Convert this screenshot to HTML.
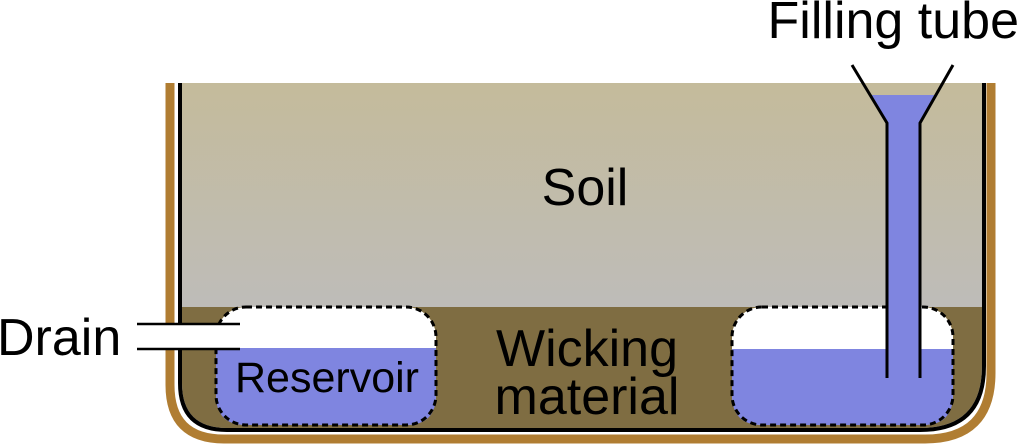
<!DOCTYPE html>
<html><head><meta charset="utf-8"><style>
html,body{margin:0;padding:0;background:#fff}
svg{display:block}
text{font-family:"Liberation Sans",sans-serif;fill:#000}
</style></head><body>
<svg width="1024" height="444" viewBox="0 0 1024 444">
<defs>
<linearGradient id="soilg" x1="0" y1="0" x2="0" y2="1">
<stop offset="0" stop-color="#c4bb9b"/><stop offset="1" stop-color="#bebcb9"/>
</linearGradient>
<clipPath id="potclip"><path d="M182 83 V383 Q182 428 227 428 H920 Q982 428 982 366 V83 Z"/></clipPath>
</defs>
<path d="M170 83 V385 Q170 439 224 439 H925 Q991 439 991 373 V83" fill="none" stroke="#b07d32" stroke-width="9"/>
<g clip-path="url(#potclip)">
<rect x="180" y="83" width="804" height="225" fill="url(#soilg)"/>
<rect x="180" y="307" width="804" height="125" fill="#7f6d42"/>
</g>
<path d="M180 83 V383 Q180 430 227 430 H920 Q984 430 984 366 V83" fill="none" stroke="#000" stroke-width="4"/>
<g>
<rect x="216" y="307" width="220" height="118" rx="30" fill="#fff"/>
<path d="M216 348 H436 V395 Q436 425 406 425 H246 Q216 425 216 395 Z" fill="#7f85e0"/>
<rect x="216" y="307" width="220" height="118" rx="30" fill="none" stroke="#000" stroke-width="3" stroke-dasharray="6,4"/>
<text x="327" y="392" font-size="43" text-anchor="middle">Reservoir</text>
</g>
<g>
<rect x="732" y="307" width="221" height="118" rx="30" fill="#fff"/>
<path d="M732 349 H953 V395 Q953 425 923 425 H762 Q732 425 732 395 Z" fill="#7f85e0"/>
<rect x="732" y="307" width="221" height="118" rx="30" fill="none" stroke="#000" stroke-width="3" stroke-dasharray="6,4"/>
</g>
<g>
<path d="M870 95 H936 L920 123 V380 H887 V123 Z" fill="#7f85e0"/>
<path d="M852 65 L887 123 V378 M953 65 L920 123 V378" fill="none" stroke="#000" stroke-width="3"/>
</g>
<g>
<rect x="137" y="324" width="103" height="25" fill="#fff"/>
<path d="M137 324 H240 M137 349 H240" stroke="#000" stroke-width="2.5"/>
</g>
<text x="585" y="205" font-size="52" text-anchor="middle">Soil</text>
<text x="587" y="366" font-size="52" text-anchor="middle">Wicking</text>
<text x="587" y="414" font-size="52" text-anchor="middle">material</text>
<text x="-3" y="355" font-size="52">Drain</text>
<text x="1019" y="38" font-size="52" text-anchor="end">Filling tube</text>
</svg>
</body></html>
